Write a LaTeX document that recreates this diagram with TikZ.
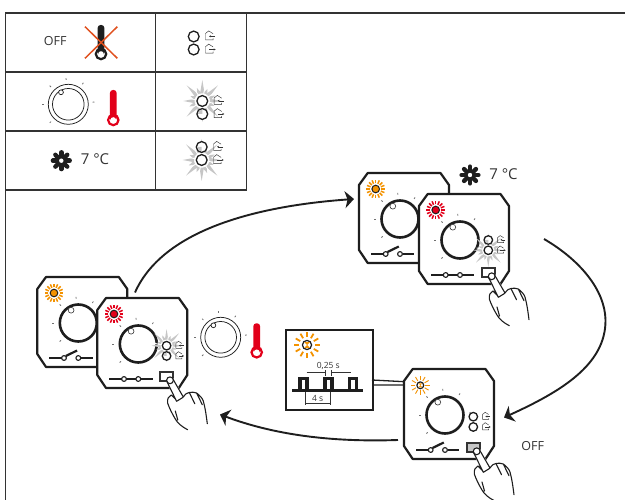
\documentclass[tikz,border=0pt]{standalone}
\usepackage{fontspec}
\setmainfont{Open Sans}
\usetikzlibrary{arrows.meta}
\definecolor{ink}{HTML}{1E1E1E}
\definecolor{ledorange}{HTML}{F39200}
\definecolor{ledred}{HTML}{E2001A}
\definecolor{crossorange}{HTML}{E0501E}
\definecolor{flash}{HTML}{C6C6C6}
\definecolor{txt}{HTML}{333333}
\tikzset{
  rule/.style={draw=txt,line width=1.3pt},
  bigarrow/.style={draw=ink,line width=1.9pt,-{Stealth[length=9pt,width=17pt,inset=2.5pt]}},
  label/.style={text=txt,inner sep=0pt,font=\fontsize{12.5}{14}\selectfont},
  temp/.style={text=txt,inner sep=0pt,font=\fontsize{15}{17}\selectfont},
  dimtxt/.style={text=txt,inner sep=0pt,font=\fontsize{8.5}{10}\selectfont},
  dimline/.style={draw=txt,line width=0.8pt},
  thinline/.style={draw=txt,line width=0.45pt},
}
\newcommand{\knobticks}{%
  \foreach \a in {-95,-55,-5,-135,180,135}
    \draw[draw=txt!70,line width=0.8pt] (\a:24.5) -- (\a:26.3);%
}
% free-standing dial
\newcommand{\freedial}[2]{%
  \begin{scope}[shift={(#1,#2)}]
    \draw[ink,line width=0.75pt] (0,0) circle (20);
    \draw[ink,line width=0.75pt] (0,0) circle (15.8);
    \draw[ink,line width=0.7pt,fill=white] (-7.3,-12) circle (2.4);
    \knobticks
  \end{scope}}
% thermometer: x, top y, bulb y, colour
\newcommand{\thermo}[4]{%
  \draw[#4,line width=2.2pt] (#1,#3) circle (5.2);
  \fill[#4,rounded corners=3pt] (#1-3.4,#3+1) -- (#1-3.4,#2) -- (#1+3.4,#2) -- (#1+3.4,#3+1) -- cycle;
  \fill[white] (#1,#3) circle (2.8);}
\newcommand{\flake}[2]{%
  \begin{scope}[shift={(#1,#2)}]
    \foreach \a in {0,45,...,315}
      \draw[ink,line width=4.4pt,line cap=round] (\a:3.5) -- (\a:8.4);
    \fill[ink] (0,0) circle (5);
    \fill[white] (0,0) circle (2.2);
  \end{scope}}
\newcommand{\house}[1]{% #1 = 1 arrow inward/left, 2 arrow outward/right
  \draw[thinline] (3.6,-2.2) -- (-0.8,-5) -- (-4,-2.4) -- (-4,4) -- (3.6,4) -- (3.6,2.6);
  \ifnum#1=1
    \draw[thinline,-{Stealth[length=2pt,width=2pt]}] (5.6,0.4) -- (-0.5,0.4);
  \else
    \draw[thinline,-{Stealth[length=2pt,width=2pt]}] (-0.5,0.4) -- (6.2,0.4);
  \fi}
\newcommand{\burst}{%
  \foreach \a/\r in {0/19,22.5/13,45/22,67.5/14,90/21,112.5/13,135/22,157.5/14,180/19,202.5/13,225/22,247.5/14,270/21,292.5/13,315/22,337.5/14}
    \fill[flash] (\a-16:8) -- (\a:\r) -- (\a+16:8) -- cycle;
  \foreach \a in {11,56,101,146,191,236,281,326}
    \draw[white,line width=0.9pt] (\a:6) -- (\a:15);}
% led pair: x,y of upper led, scale, mode 0 none, 1 upper flashes, 2 lower flashes
\newcommand{\ledpair}[4]{%
  \begin{scope}[shift={(#1,#2)},scale=#3]
    \ifnum#4=1 \burst \fi
    \ifnum#4=2 \begin{scope}[shift={(0,13)}]\burst\end{scope} \fi
    \begin{scope}[shift={(15.8,-0.6)}]\house{1}\end{scope}
    \begin{scope}[shift={(15.8,12.6)}]\house{2}\end{scope}
    \draw[ink,line width=1.3pt,fill=white] (0,0) circle (5.4);
    \draw[ink,line width=1.3pt,fill=white] (0,13) circle (5.4);
    \ifnum#4=1 \fill[flash] (-4.4,13) arc[start angle=180,end angle=270,radius=4.4] -- (0,13) -- cycle; \fi
    \ifnum#4=2 \fill[flash] (-4.4,0) arc[start angle=180,end angle=90,radius=4.4] -- (0,0) -- cycle; \fi
  \end{scope}}
% led with rays
\newcommand{\ledsun}[7]{% x,y,colour,r,ray in,ray out,ray width
  \begin{scope}[shift={(#1,#2)}]
    \foreach \a in {0,22.5,...,337.5}
      \draw[#3,line width=#7pt] (\a:#5) -- (\a:#6);
    \draw[ink,line width=1pt,fill=#3] (0,0) circle (#4);
  \end{scope}}
\newcommand{\hourled}[6]{% x,y,r,ray in,ray out,ray width
  \begin{scope}[shift={(#1,#2)}]
    \foreach \a in {0,30,...,330}
      \draw[ledorange,line width=#6pt] (\a:#4) -- (\a:#5);
    \draw[ink,line width=1.2pt,fill=white] (0,0) circle (#3);
    \fill[ledorange] (-#3*0.6,-#3*0.6) -- (#3*0.6,-#3*0.6) -- (-#3*0.6,#3*0.6) -- (#3*0.6,#3*0.6) -- cycle;
  \end{scope}}
\newcommand{\housing}{%
  \draw[ink,line width=2.2pt,fill=white,line join=round]
    (8.7,0) -- (81.5,0) -- (90,12) -- (90,77) -- (81.5,90) -- (8.7,90) -- (0,77) -- (0,12) -- cycle;}
\newcommand{\knob}{%
  \draw[ink,line width=2.6pt,fill=white] (41,46) circle (18.5);
  \draw[txt,line width=0.6pt,fill=white] (33.8,33.2) circle (2.9);
  \begin{scope}[shift={(41,46)}]\knobticks\end{scope}}
\newcommand{\swopen}{%
  \draw[ink,line width=2.2pt] (12,81) -- (24.5,81);
  \draw[ink,line width=2.2pt] (43.5,81) -- (55.4,81);
  \draw[ink,line width=2.2pt] (28.5,79) -- (39.8,73.5);
  \draw[ink,line width=1.1pt,fill=white] (26.7,81) circle (2.4);
  \draw[ink,line width=1.1pt,fill=white] (41,81) circle (2.4);}
\newcommand{\swclosed}{%
  \draw[ink,line width=2.2pt] (12,81) -- (55.4,81);
  \draw[ink,line width=1.1pt,fill=white] (26.7,81) circle (2.4);
  \draw[ink,line width=1.1pt,fill=white] (41,81) circle (2.4);}
\newcommand{\pushbtn}[1]{%
  \draw[txt,line width=1.8pt,fill=#1] (63,74) rectangle (76,83);}
\newcommand{\hand}{%
  \fill[white] (69,84) -- (72,79) -- (77,81) -- (86,99) -- (91,95) -- (99.3,95) -- (105.3,101.7) -- (107.7,108.3) -- (110,125.7) -- (90.3,131.7) -- (81,125) -- (70,105) -- (71,100) -- (79,103) -- cycle;
  \draw[ink,line width=1.1pt,fill=white] (72.7,82.3) circle (3.4);
  \draw[ink,line width=1.1pt,line join=round,line cap=round]
    (69.5,83.3) -- (79.3,103.3)
    (76,81.7) -- (86,99) .. controls (88,96) and (90,94.5) .. (92,94.5)
    .. controls (94,94) and (97,94) .. (99.3,95) .. controls (102,97) and (105,100) .. (106,103)
    .. controls (108,110) and (109,118) .. (110,125.7)
    (79.3,103.3) -- (85.5,99.5)
    (74,97) .. controls (71,98) and (70,101) .. (70.3,105)
    .. controls (72,110) and (75,116) .. (78,121) .. controls (80,125) and (85,129) .. (90.3,131.7)
    (74,97) -- (78.5,101.5)
    (92,94.5) -- (97.5,105.7)
    (99.3,95) -- (105,106.7)
    (78,113) -- (80.5,122);}
\newcommand{\backunit}[2]{%
  \begin{scope}[shift={(#1,#2)}]
    \housing \knob \swopen
    \ledsun{16.7}{16}{ledorange}{3.8}{5.6}{9.4}{1.5}
  \end{scope}}
\newcommand{\frontunit}[4]{% x,y,led y,flash mode
  \begin{scope}[shift={(#1,#2)}]
    \housing \knob \swclosed
    \ledsun{16.7}{16}{ledred}{3.8}{5.6}{9.4}{1.5}
    \ledpair{69.3}{#3}{0.79}{#4}
    \pushbtn{white}
    \hand
  \end{scope}}
\begin{document}
\begin{tikzpicture}[x=1pt,y=-1pt]
\useasboundingbox (0,0) rectangle (625,500);
% table
\draw[rule] (625,13) -- (5.3,13) -- (5.3,500);
\draw[rule] (246.5,13) -- (246.5,190) -- (5.3,190);
\draw[rule] (155.5,13) -- (155.5,190);
\draw[rule] (5.3,72) -- (246.5,72);
\draw[rule] (5.3,131) -- (246.5,131);
\node[label] (off1) at (55.3,41.3) {OFF};
\thermo{101}{25}{54}{ink}
\draw[crossorange,line width=1.5pt] (85,26.7) -- (117.3,58.3) (117.3,26.7) -- (85,58.3);
\ledpair{193.7}{36.5}{1}{0}
\freedial{68.3}{104.3}
\thermo{113.3}{90}{120}{ledred}
\ledpair{202.3}{101}{1}{1}
\flake{61.3}{160.7}
\node[temp] (t1) at (95,159) {7 °C};
\ledpair{201.7}{147}{1}{2}
% arrows
\coordinate (a1s) at (135,292.5); \coordinate (a1e) at (354,199);
\coordinate (a2s) at (544,239); \coordinate (a2m) at (605.5,320); \coordinate (a2e) at (504,417.5);
\coordinate (a3s) at (398,440); \coordinate (a3e) at (220,414.5);
\draw[bigarrow] (a1s) .. controls (165,225) and (270,205) .. (a1e);
\draw[bigarrow] (a2s) .. controls (580,260) and (605,290) .. (a2m) .. controls (606,365) and (560,392) .. (a2e);
\draw[bigarrow] (a3s) .. controls (340,442) and (280,437) .. (a3e);
% left pair
\backunit{37.3}{277}
\frontunit{97.3}{298}{47.7}{1}
\freedial{220.7}{337.3}
\thermo{256.7}{323.3}{352.3}{ledred}
% right pair
\backunit{359}{173}
\frontunit{419}{194}{46}{2}
\flake{470}{175}
\node[temp] (t2) at (503.5,174) {7 °C};
% bottom unit
\begin{scope}[shift={(404,369)}]
  \housing \knob \swopen
  \hourled{16.3}{16.3}{3.4}{5}{9.6}{0.9}
  \ledpair{69.3}{47.7}{0.79}{0}
  \pushbtn{flash}
  \hand
\end{scope}
\node[label] (off2) at (532.7,446) {OFF};
% inset
\node[draw=ink,line width=1.7pt,minimum width=87pt,minimum height=80pt,inner sep=0pt,anchor=north west] (inset) at (285,329) {};
\coordinate (c1) at (372,380); \coordinate (c2) at (404.3,381.7);
\coordinate (c3) at (372,385); \coordinate (c4) at (404.6,385);
\draw[ink,line width=1.3pt] (c1) -- (c2) (c3) -- (c4);
\hourled{307}{345}{4.6}{7.8}{13}{1.8}
\draw[ink,line width=3.6pt] (292.3,390.7) -- (363.3,390.7);
\foreach \l/\r in {300/307,325/332,349.5/356.5}
  \draw[ink,line width=3.2pt] (\l,390.7) -- (\l,378.5) -- (\r,378.5) -- (\r,390.7);
\draw[dimline] (306.7,372.3) -- (325,372.3) (331,372.3) -- (350.7,372.3) (325,370) -- (325,376.5) (331,370) -- (331,376.5);
\draw[dimline] (305.7,403) -- (330,403) (305.7,392) -- (305.7,405) (330,392) -- (330,405);
\node[dimtxt] (d1) at (328.3,365.7) {0,25 s};
\node[dimtxt] (d2) at (317.7,398.7) {4 s};
\end{tikzpicture}
\end{document}
